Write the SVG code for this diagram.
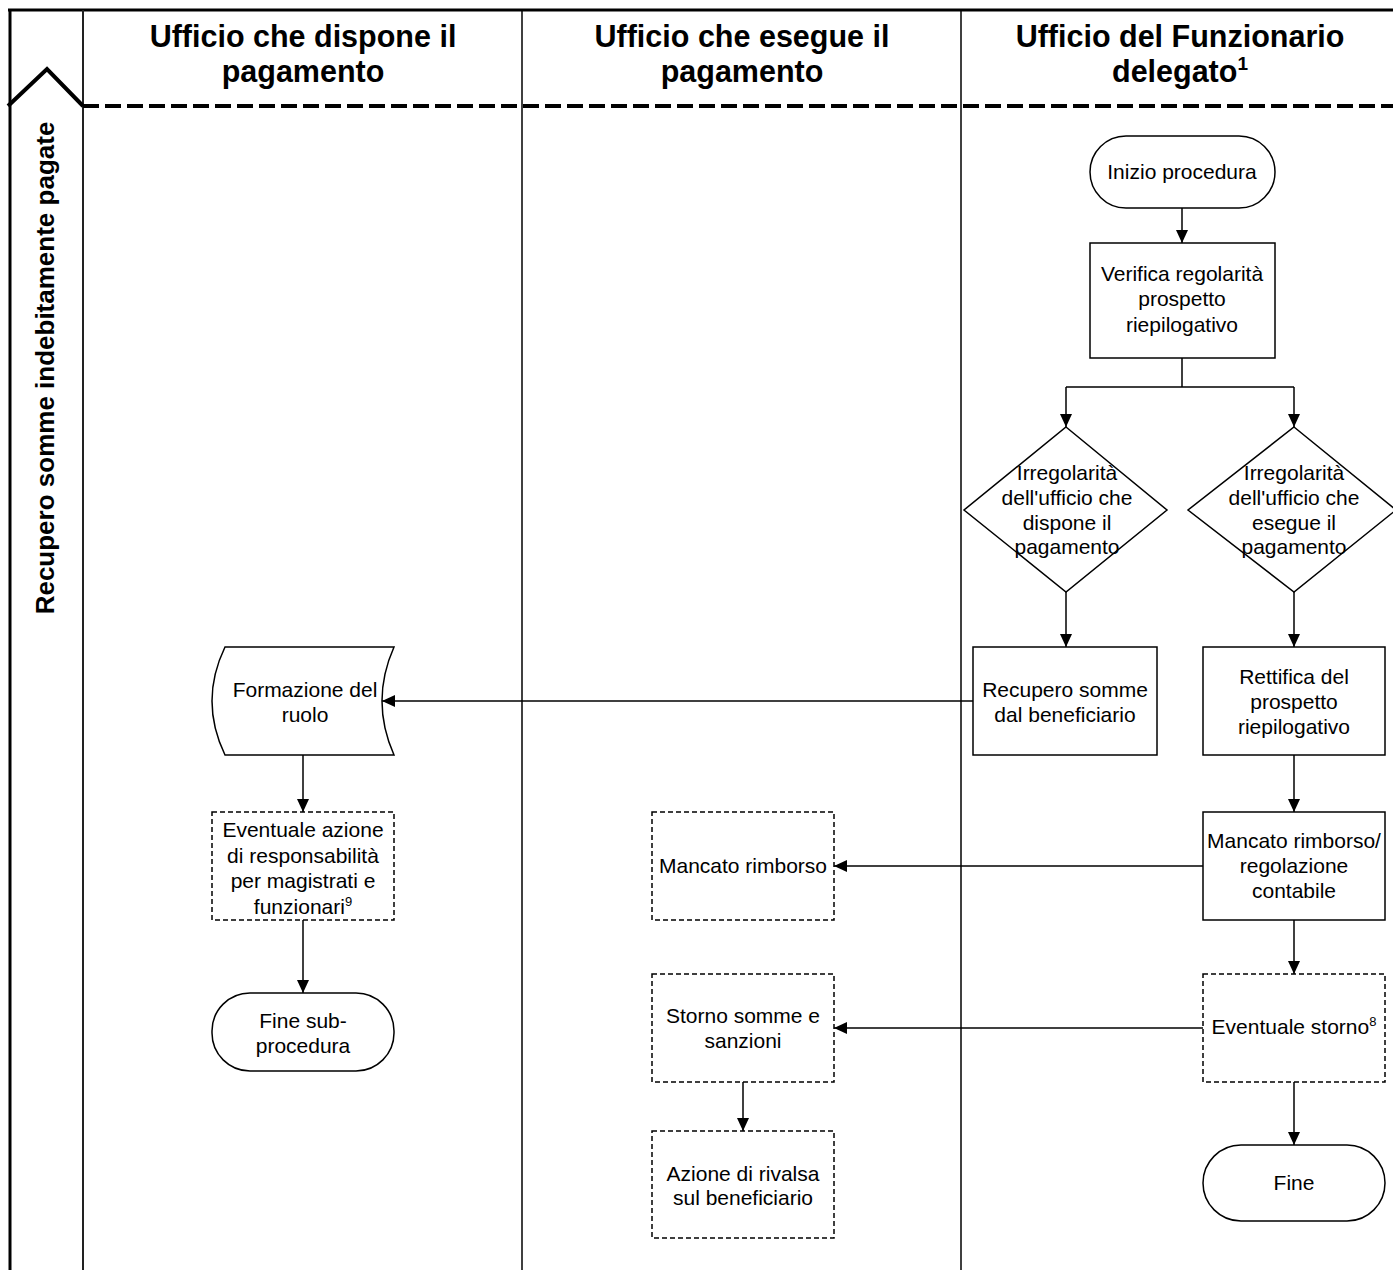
<svg xmlns="http://www.w3.org/2000/svg" width="1393" height="1270" viewBox="0 0 1393 1270">
<defs>
<marker id="ah" markerWidth="13" markerHeight="12" refX="13" refY="6" orient="auto" markerUnits="userSpaceOnUse">
<path d="M0,0 L13,6 L0,12 Z" fill="#000"/>
</marker>
<style>
text{font-family:"Liberation Sans",Arial,sans-serif;fill:#000}
.n{font-size:21px;text-anchor:middle}
.h{font-size:30.5px;font-weight:bold;text-anchor:middle}
.v{font-size:26px;font-weight:bold;text-anchor:middle}
.box{fill:#fff;stroke:#000;stroke-width:1.5}
.dash{fill:#fff;stroke:#000;stroke-width:1.5;stroke-dasharray:5,3}
.c{fill:none;stroke:#000;stroke-width:1.5}
.ca{fill:none;stroke:#000;stroke-width:1.5;marker-end:url(#ah)}
</style>
</defs>
<rect width="1393" height="1270" fill="#fff"/>
<g id="frame">
<line x1="8" y1="10" x2="1393" y2="10" stroke="#000" stroke-width="3"/>
<line x1="10" y1="9" x2="10" y2="1270" stroke="#000" stroke-width="3"/>
<line x1="83" y1="10" x2="83" y2="1270" stroke="#222" stroke-width="2"/>
<line x1="522" y1="10" x2="522" y2="1270" stroke="#000" stroke-width="1.5"/>
<line x1="961" y1="10" x2="961" y2="1270" stroke="#000" stroke-width="1.5"/>
<polyline points="8,106 47,69 83,106" fill="none" stroke="#000" stroke-width="4"/>
<line x1="83" y1="106" x2="1393" y2="106" stroke="#000" stroke-width="4" stroke-dasharray="16,6"/>
</g>
<g id="headers">
<text class="h" x="303" y="47">Ufficio che dispone il</text>
<text class="h" x="303" y="82">pagamento</text>
<text class="h" x="742" y="47">Ufficio che esegue il</text>
<text class="h" x="742" y="82">pagamento</text>
<text class="h" x="1180" y="47">Ufficio del Funzionario</text>
<text class="h" x="1180" y="82">delegato<tspan font-size="19" dy="-12">1</tspan></text>
<text class="v" transform="translate(54,368) rotate(-90)">Recupero somme indebitamente pagate</text>
</g>
<g id="connectors">
<path class="ca" d="M1182,208 V243"/>
<path class="c" d="M1182,358 V387 M1066,387 H1294"/>
<path class="ca" d="M1066,387 V427"/>
<path class="ca" d="M1294,387 V427"/>
<path class="ca" d="M1066,592 V647"/>
<path class="ca" d="M1294,592 V647"/>
<path class="ca" d="M973,701 H382"/>
<path class="ca" d="M1294,755 V812"/>
<path class="ca" d="M1203,866 H834"/>
<path class="ca" d="M1294,920 V974"/>
<path class="ca" d="M1203,1028 H834"/>
<path class="ca" d="M1294,1082 V1145"/>
<path class="ca" d="M743,1082 V1131"/>
<path class="ca" d="M303,755 V812"/>
<path class="ca" d="M303,920 V993"/>
</g>
<g id="n-inizio">
<rect class="box" x="1090" y="136" width="185" height="72" rx="36" ry="36"/>
<text class="n" x="1182" y="179">Inizio procedura</text>
</g>
<g id="n-verifica">
<rect class="box" x="1090" y="243" width="185" height="115"/>
<text class="n" x="1182" y="281">Verifica regolarità</text>
<text class="n" x="1182" y="306">prospetto</text>
<text class="n" x="1182" y="332">riepilogativo</text>
</g>
<g id="n-irr-dispone">
<polygon class="box" points="1066,427 1167,510 1066,592 964,510"/>
<text class="n" x="1067" y="480">Irregolarità</text>
<text class="n" x="1067" y="505">dell'ufficio che</text>
<text class="n" x="1067" y="530">dispone il</text>
<text class="n" x="1067" y="554">pagamento</text>
</g>
<g id="n-irr-esegue">
<polygon class="box" points="1294,427 1396,510 1294,592 1188,510"/>
<text class="n" x="1294" y="480">Irregolarità</text>
<text class="n" x="1294" y="505">dell'ufficio che</text>
<text class="n" x="1294" y="530">esegue il</text>
<text class="n" x="1294" y="554">pagamento</text>
</g>
<g id="n-recupero">
<rect class="box" x="973" y="647" width="184" height="108"/>
<text class="n" x="1065" y="697">Recupero somme</text>
<text class="n" x="1065" y="722">dal beneficiario</text>
</g>
<g id="n-rettifica">
<rect class="box" x="1203" y="647" width="182" height="108"/>
<text class="n" x="1294" y="684">Rettifica del</text>
<text class="n" x="1294" y="709">prospetto</text>
<text class="n" x="1294" y="734">riepilogativo</text>
</g>
<g id="n-formazione">
<path class="box" d="M225,647 L394,647 Q370,701 394,755 L225,755 Q199,701 225,647 Z"/>
<text class="n" x="305" y="697">Formazione del</text>
<text class="n" x="305" y="722">ruolo</text>
</g>
<g id="n-azione-resp">
<rect class="dash" x="212" y="812" width="182" height="108"/>
<text class="n" x="303" y="837">Eventuale azione</text>
<text class="n" x="303" y="862.5">di responsabilità</text>
<text class="n" x="303" y="888">per magistrati e</text>
<text class="n" x="303" y="913.5">funzionari<tspan font-size="13" dy="-8">9</tspan></text>
</g>
<g id="n-fine-sub">
<rect class="box" x="212" y="993" width="182" height="78" rx="38" ry="38"/>
<text class="n" x="303" y="1028">Fine sub-</text>
<text class="n" x="303" y="1053">procedura</text>
</g>
<g id="n-mancato">
<rect class="dash" x="652" y="812" width="182" height="108"/>
<text class="n" x="743" y="873">Mancato rimborso</text>
</g>
<g id="n-mancato-reg">
<rect class="box" x="1203" y="812" width="182" height="108"/>
<text class="n" x="1294" y="848">Mancato rimborso/</text>
<text class="n" x="1294" y="873">regolazione</text>
<text class="n" x="1294" y="898">contabile</text>
</g>
<g id="n-storno-somme">
<rect class="dash" x="652" y="974" width="182" height="108"/>
<text class="n" x="743" y="1023">Storno somme e</text>
<text class="n" x="743" y="1048">sanzioni</text>
</g>
<g id="n-eventuale-storno">
<rect class="dash" x="1203" y="974" width="182" height="108"/>
<text class="n" x="1294" y="1034">Eventuale storno<tspan font-size="13" dy="-8">8</tspan></text>
</g>
<g id="n-rivalsa">
<rect class="dash" x="652" y="1131" width="182" height="107"/>
<text class="n" x="743" y="1181">Azione di rivalsa</text>
<text class="n" x="743" y="1205">sul beneficiario</text>
</g>
<g id="n-fine">
<rect class="box" x="1203" y="1145" width="182" height="76" rx="38" ry="38"/>
<text class="n" x="1294" y="1190">Fine</text>
</g>
</svg>
